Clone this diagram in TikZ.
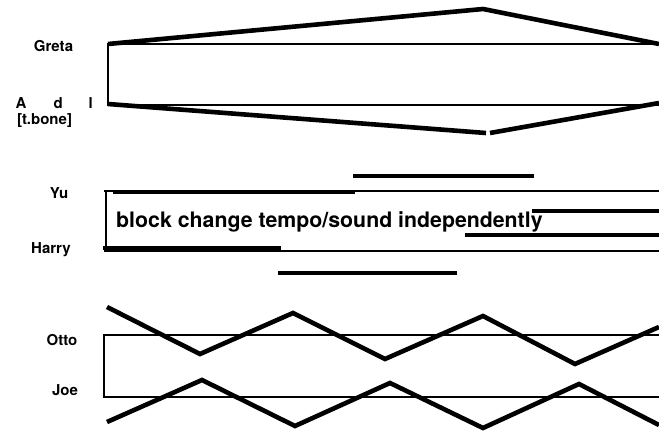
\documentclass[tikz,border=0pt]{standalone}
\usepackage{fontspec}
\setmainfont{TeX Gyre Heros}
\begin{document}
\begin{tikzpicture}[x=1pt,y=-1pt,
  thinline/.style={line width=1.6pt},
  bar/.style={line width=4.6pt},
  zig/.style={line width=4.6pt, line join=miter},
  lbl/.style={font=\fontsize{15}{17}\selectfont\bfseries, inner sep=0pt},
  big/.style={font=\fontsize{21.3}{24}\selectfont\bfseries, inner sep=0pt, anchor=west}]
\useasboundingbox (0,0) rectangle (659,433);
% ---- top group
\coordinate (g0) at (108,44);
\coordinate (g1) at (659,44);
\coordinate (a0) at (108,105);
\coordinate (a1) at (659,105);
\draw[thinline] (g1) -- (g0) -- (a0) -- (a1);
\coordinate (gp) at (483,9);
\coordinate (gr) at (659,44);
\draw[zig] (g0) -- (gp) -- (gr);
\coordinate (al) at (108,104);
\coordinate (ae1) at (486,133);
\coordinate (ae2) at (490,133);
\coordinate (ar) at (659,103);
\draw[bar] (al) -- (ae1);
\draw[bar] (ae2) -- (ar);
\node[lbl] (greta) at (53.5,46) {Greta};
\node[lbl, anchor=west] (adl) at (15.5,103) {A\hspace{27pt}d\hspace{26pt}l};
\node[lbl] (tbone) at (44.5,121) {[t.bone]};
% ---- middle group
\coordinate (y0) at (104,191);
\coordinate (y1) at (659,191);
\coordinate (h0) at (104,251);
\coordinate (h1) at (659,251);
\draw[thinline] (y1) -- (y0);
\draw[thinline] (h1) -- (h0);
\draw[thinline] (106,191) -- (106,251);
\draw[bar] (113,192) -- (355,192);
\draw[bar] (353,176) -- (534,176);
\draw[bar] (532,211) -- (659,211);
\draw[bar] (465,235) -- (659,235);
\draw[bar] (103,248) -- (281,248);
\draw[bar] (278,273) -- (457,273);
\node[lbl] (yu) at (59,193) {Yu};
\node[lbl] (harry) at (51,250) {Harry};
\node[big] (block) at (116,222) {block change tempo/sound independently};
% ---- bottom group
\coordinate (o0) at (104,335);
\coordinate (o1) at (659,335);
\coordinate (j0) at (104,397);
\coordinate (j1) at (659,397);
\draw[thinline] (o1) -- (o0) -- (j0) -- (j1);
\draw[zig] (107,307) -- (200,354) -- (293,313) -- (385,359) -- (483,316) -- (575,364) -- (659,327);
\draw[zig] (107,422) -- (202,380) -- (295,426) -- (390,383) -- (483,428) -- (579,384) -- (659,425);
\node[lbl] (otto) at (62,340) {Otto};
\node[lbl] (joe) at (65,390) {Joe};
\end{tikzpicture}
\end{document}
